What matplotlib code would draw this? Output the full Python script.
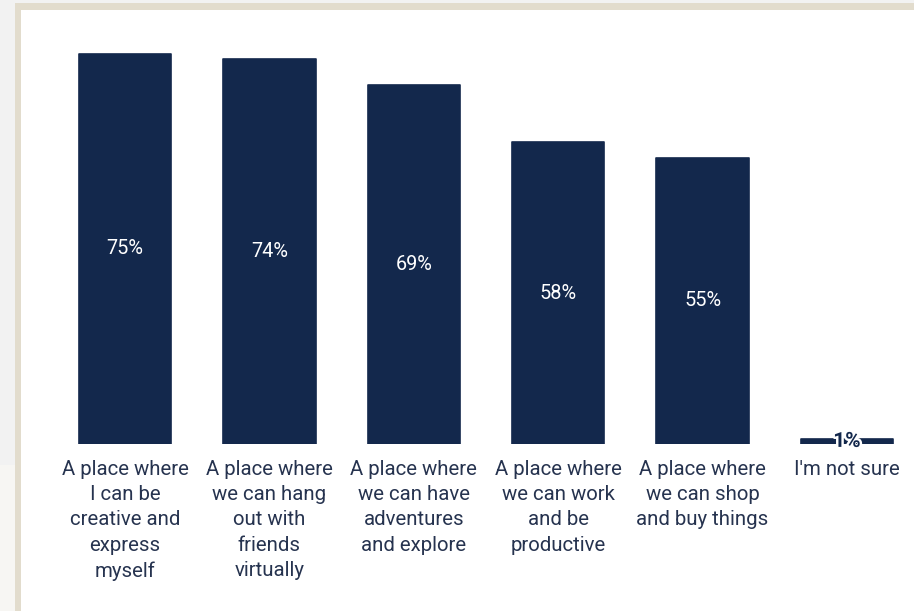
import matplotlib
matplotlib.use("Agg")
import matplotlib.pyplot as plt
from matplotlib.patches import Rectangle
import matplotlib.patheffects as pe
from matplotlib.transforms import offset_copy

categories = [
    "A place where\nI can be\ncreative and\nexpress\nmyself",
    "A place where\nwe can hang\nout with\nfriends\nvirtually",
    "A place where\nwe can have\nadventures\nand explore",
    "A place where\nwe can work\nand be\nproductive",
    "A place where\nwe can shop\nand buy things",
    "I'm not sure",
]
values = [75, 74, 69, 58, 55, 1]
value_labels = ["75%", "74%", "69%", "58%", "55%", "1%"]

BAR = "#13284c"
TEXT = "#26334f"

plt.rcParams["font.family"] = ["Roboto", "DejaVu Sans"]

W, H = 914, 611
fig = plt.figure(figsize=(W / 100, H / 100), dpi=100)
fig.patch.set_facecolor("#f2f2f2")

# card frame: beige border with white interior
fig.patches.append(Rectangle((0, 0), 15 / W, (H - 465) / H, transform=fig.transFigure,
                             facecolor="#f7f6f3", edgecolor="none", zorder=-10))
fig.patches.append(Rectangle((15 / W, 0), 1, (H - 3) / H, transform=fig.transFigure,
                             facecolor="#e2dccd", edgecolor="none", zorder=-10))
fig.patches.append(Rectangle((21 / W, 0), 1, (H - 9.5) / H, transform=fig.transFigure,
                             facecolor="white", edgecolor="none", zorder=-10))

# axes geometry in pixels
step = 144.4
x0 = 125.0
left_px, right_px = 22, 914
base_px, top_px = 444, 10
ppu = 5.2
ax = fig.add_axes([left_px / W, (H - base_px) / H, (right_px - left_px) / W,
                   (base_px - top_px) / H])
ax.set_zorder(5)
ax.set_xlim((left_px - x0) / step, (right_px - x0) / step)
ax.set_ylim(0, (base_px - top_px) / ppu)
ax.set_facecolor("none")
ax.axis("off")

xs = list(range(len(categories)))
ax.bar(xs, values, width=0.64, color=BAR, edgecolor=BAR, linewidth=1.2,
       joinstyle="round", zorder=2)

for x, v, lab in zip(xs, values, value_labels):
    if v >= 10:
        ax.text(x, v / 2, lab, ha="center", va="center", color="white",
                fontsize=14.3, zorder=3)
    else:
        ax.text(x, v / 2, lab, ha="center", va="center", color=BAR,
                fontsize=15, fontweight="bold", zorder=3,
                path_effects=[pe.withStroke(linewidth=3.5, foreground="white")])

tr = offset_copy(ax.transData, fig=fig, x=0, y=-11.2, units="points")
for x, cat in zip(xs, categories):
    ax.text(x, 0, cat, transform=tr, ha="center", va="top", color=TEXT,
            fontsize=14.7, linespacing=1.43, clip_on=False)

fig.savefig("out.png", dpi=100, facecolor=fig.get_facecolor())
